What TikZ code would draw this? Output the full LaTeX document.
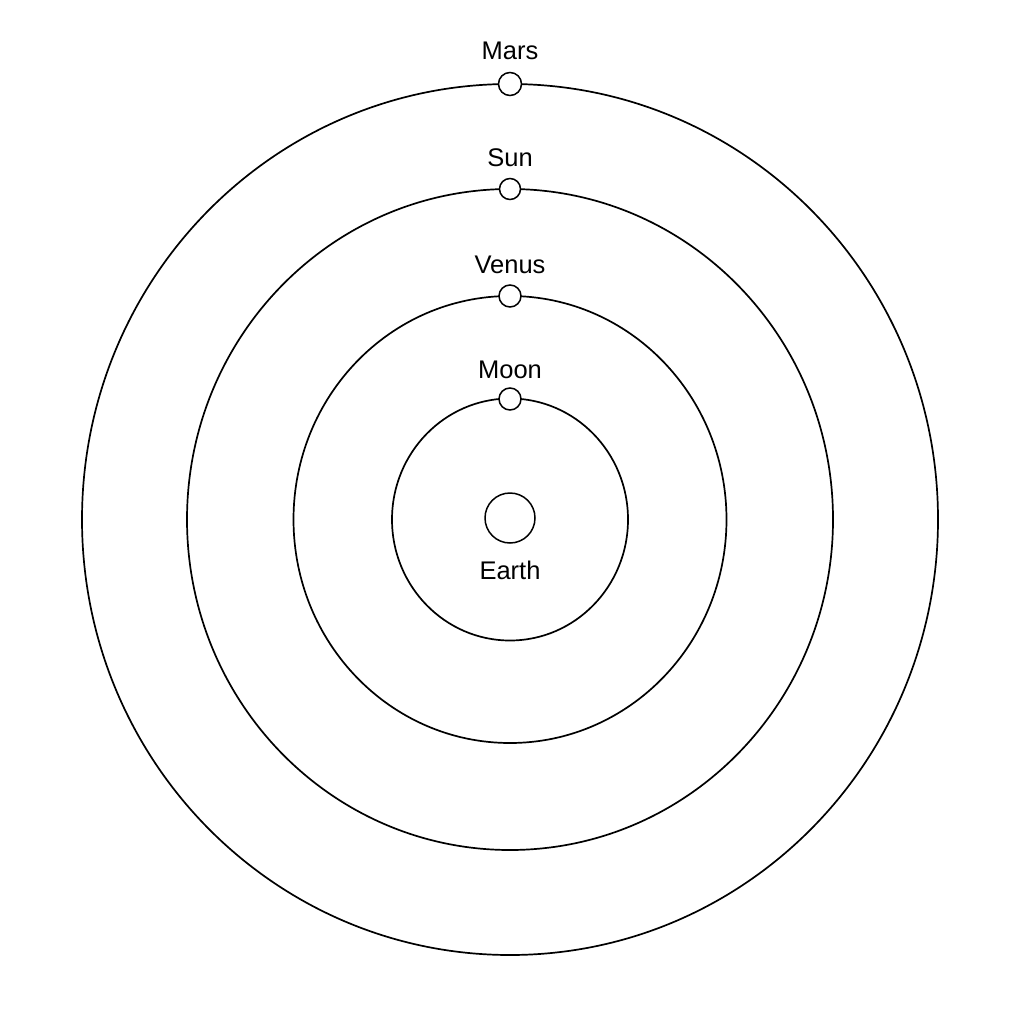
\documentclass[tikz,border=0pt]{standalone}
\usepackage{fontspec}
\setmainfont{Liberation Sans}
\begin{document}
\begin{tikzpicture}[x=1pt,y=-1pt,
  orbit/.style={draw=black,line width=1.7pt},
  planet/.style={circle,draw=black,fill=white,line width=1.5pt,inner sep=0pt},
  lbl/.style={font=\fontsize{25.5}{28}\selectfont,inner sep=0pt}]
\useasboundingbox (0,0) rectangle (1024,1024);
\fill[white] (0,0) rectangle (1024,1024);
\coordinate (c) at (510,519.5);
\draw[orbit] (c) ellipse [x radius=428, y radius=435.5];
\draw[orbit] (c) ellipse [x radius=323, y radius=330.5];
\draw[orbit] (c) ellipse [x radius=216.5, y radius=223.5];
\draw[orbit] (c) ellipse [x radius=118, y radius=121];
\node[planet,minimum size=50pt] (earth) at (510,518) {};
\node[planet,minimum size=23pt] (mars) at (510,84) {};
\node[planet,minimum size=21pt] (sun) at (510,189) {};
\node[planet,minimum size=22pt] (venus) at (510,296) {};
\node[planet,minimum size=22pt] (moon) at (510,399) {};
\node[lbl] (marsl) at (510,51) {Mars};
\node[lbl] (sunl) at (510,158) {Sun};
\node[lbl] (venusl) at (510,265) {Venus};
\node[lbl] (moonl) at (510,370) {Moon};
\node[lbl] (earthl) at (510,570) {Earth};
\end{tikzpicture}
\end{document}
